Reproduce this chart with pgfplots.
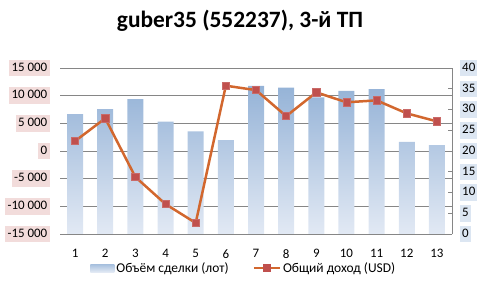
\documentclass[border=0pt]{standalone}
\usepackage{fontspec}
\setmainfont{Carlito}
\usepackage{pgfplots}
\pgfplotsset{compat=1.18}
\definecolor{barTop}{HTML}{95B3D7}
\definecolor{barBot}{HTML}{E2E9F4}
\definecolor{lineC}{HTML}{D2672E}
\definecolor{markC}{HTML}{C0504D}
\definecolor{gridC}{HTML}{868686}
\definecolor{pinkBg}{HTML}{F2DCDB}
\definecolor{blueBg}{HTML}{DCE6F2}
\pgfplotsset{common/.style={scale only axis, width=392bp, height=166bp,
  xmin=0.5, xmax=13.5, at={(0,0)}, anchor=south west, scaled y ticks=false}}
\begin{document}
\begin{tikzpicture}
% axis 1: left scale + grid + x labels
\begin{axis}[common, ymin=-15000, ymax=15000,
  ytick={-15000,-10000,-5000,0,5000,10000,15000},
  yticklabels={-15 000,-10 000,-5 000,0,5 000,10 000,15 000},
  xtick={1,...,13}, xticklabels={1,2,3,4,5,6,7,8,9,10,11,12,13},
  ymajorgrids, grid style={gridC, line width=0.8bp},
  axis line style={draw=none}, major tick length=0pt,
  yticklabel style={fill=pinkBg, inner xsep=2.5bp, inner ysep=2.5bp, text height=9bp, text depth=2.5bp,
     font=\fontsize{13}{15}\selectfont, anchor=east, xshift=-10bp},
  xticklabel style={font=\fontsize{13}{15}\selectfont, yshift=-12bp},
]
\addplot[draw=none, forget plot] coordinates {(1,0)};
\end{axis}
% axis 2: right scale + bars
\begin{axis}[common, ymin=0, ymax=40, ytick={0,5,...,40},
  yticklabels={0,5,10,15,20,25,30,35,40},
  axis y line*=right, axis x line=none,
  y axis line style={gridC, line width=0.8bp},
  ytick style={gridC, line width=0.8bp}, tick align=inside, major tick length=4bp,
  yticklabel style={fill=blueBg, inner xsep=2bp, inner ysep=2.5bp, text height=9bp, text depth=2.5bp,
     font=\fontsize{13}{15}\selectfont, anchor=west, xshift=8bp},
]
\addplot[ybar, bar width=16bp, bar shift=0pt, draw=none, top color=barTop, bottom color=barBot]
 coordinates {(1,28.9) (2,30.1) (3,32.5) (4,27.1) (5,24.7) (6,22.6) (7,35.7) (8,35.3) (9,32.9) (10,34.5) (11,34.9) (12,22.2) (13,21.4)};
\end{axis}
% axis 3: line on left scale
\begin{axis}[common, ymin=-15000, ymax=15000, hide axis,
  legend columns=2,
  legend style={draw=none, fill=none, inner sep=0pt, at={(0.077,-0.205)}, anchor=west,
    font=\fontsize{13.5}{15}\selectfont,
    /tikz/every even column/.append style={column sep=22bp}},
]
\addlegendimage{legend image code/.code={\path[draw=none, top color=barTop!85!white, bottom color=barBot] (0bp,-4bp) rectangle (24bp,4bp);}}
\addlegendentry{Объём сделки (лот)}
\addlegendimage{legend image code/.code={\draw[lineC,line width=2.5bp] (0bp,0bp)--(26bp,0bp); \fill[markC] (9.4bp,-3.6bp) rectangle (16.6bp,3.6bp);}}
\addlegendentry{Общий доход (USD)}
\addplot[lineC, line width=2.5bp, mark=square*, mark size=3.6bp,
  mark options={fill=markC, draw=markC!85!white, line width=0.6bp}, forget plot]
 coordinates {(1,1800) (2,5900) (3,-4700) (4,-9600) (5,-13000) (6,11800) (7,11000) (8,6300) (9,10600) (10,8800) (11,9150) (12,6800) (13,5350)};
\end{axis}
\node[anchor=base, font=\bfseries\fontsize{23.5}{26}\selectfont] at (180bp,206bp) {guber35 (552237), 3-й ТП};
\pgfresetboundingbox
\useasboundingbox (-60bp,-54bp) rectangle (419bp,234bp);
\end{tikzpicture}
\end{document}
